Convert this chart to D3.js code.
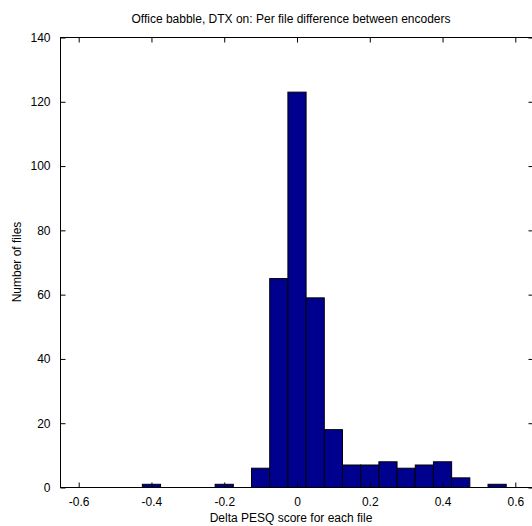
<!DOCTYPE html>
<html><head><meta charset="utf-8">
<script src="https://cdn.jsdelivr.net/npm/d3@7"></script>
<style>body{margin:0;background:#fff;} svg{display:block;} text{font-family:"Liberation Sans",Arial,sans-serif;}</style>
</head><body>
<svg id="c" width="532" height="526"></svg>
<script>
const binCenters = [-0.4,-0.35,-0.3,-0.25,-0.2,-0.15,-0.1,-0.05,0,0.05,0.1,0.15,0.2,0.25,0.3,0.35,0.4,0.45,0.5,0.55];
const counts     = [1,0,0,0,1,0,6,65,123,59,18,7,7,8,6,7,8,3,0,1];
const binWidth = 0.05;
const xTicks = [-0.6,-0.4,-0.2,0,0.2,0.4,0.6];
const xTickLabels = ["-0.6","-0.4","-0.2","0","0.2","0.4","0.6"];
const yTicks = [0,20,40,60,80,100,120,140];
const title = "Office babble, DTX on: Per file difference between encoders";
const xLabel = "Delta PESQ score for each file";
const yLabel = "Number of files";

const svg = d3.select("#c");
const L = 60.5, R = 533.5, T = 37.5, B = 487.5;
const x = d3.scaleLinear().domain([-0.65, 0.65]).range([L, R]);
const y = d3.scaleLinear().domain([0, 140]).range([B, T]);

const data = binCenters.map((c,i)=>({c, v:counts[i]}));
svg.append("g").selectAll("rect").data(data).join("rect")
  .attr("x", d=>x(d.c - binWidth/2))
  .attr("width", d=>x(d.c + binWidth/2) - x(d.c - binWidth/2))
  .attr("y", d=>y(d.v))
  .attr("height", d=>y(0)-y(d.v))
  .attr("fill", "#00008f")
  .attr("stroke", "#000")
  .attr("stroke-width", 1);

// box
svg.append("rect").attr("x",L).attr("y",T).attr("width",R-L).attr("height",B-T)
  .attr("fill","none").attr("stroke","#000").attr("stroke-width",1);

const fs = 12;
const axB = d3.axisBottom(x).tickValues(xTicks).tickSizeInner(-5).tickSizeOuter(0).tickPadding(10)
  .tickFormat((d,i)=>xTickLabels[i]);
const gB = svg.append("g").attr("transform",`translate(0,${B})`).call(axB);
const axT = d3.axisTop(x).tickValues(xTicks).tickSizeInner(-5).tickSizeOuter(0).tickFormat("");
const gT = svg.append("g").attr("transform",`translate(0,${T})`).call(axT);
const axL = d3.axisLeft(y).tickValues(yTicks).tickSizeInner(-5).tickSizeOuter(0).tickPadding(10);
const gL = svg.append("g").attr("transform",`translate(${L},0)`).call(axL);
const axR = d3.axisRight(y).tickValues(yTicks).tickSizeInner(-5).tickSizeOuter(0).tickFormat("");
const gR = svg.append("g").attr("transform",`translate(${R},0)`).call(axR);
[gB,gT,gL,gR].forEach(g=>{
  g.select(".domain").remove();
  g.selectAll("line").attr("stroke","#000");
  g.selectAll("text").attr("fill","#000").style("font-size",fs+"px").style("font-family","'Liberation Sans',Arial,sans-serif");
});
gB.selectAll("text").attr("dy","0.71em");

svg.append("text").attr("x",291).attr("y",23).attr("text-anchor","middle")
  .style("font-size",fs+"px").text(title);
svg.append("text").attr("x",291).attr("y",522).attr("text-anchor","middle")
  .style("font-size",fs+"px").text(xLabel);
svg.append("text").attr("transform","translate(21,262) rotate(-90)").attr("text-anchor","middle")
  .style("font-size",fs+"px").text(yLabel);
</script>
</body></html>
